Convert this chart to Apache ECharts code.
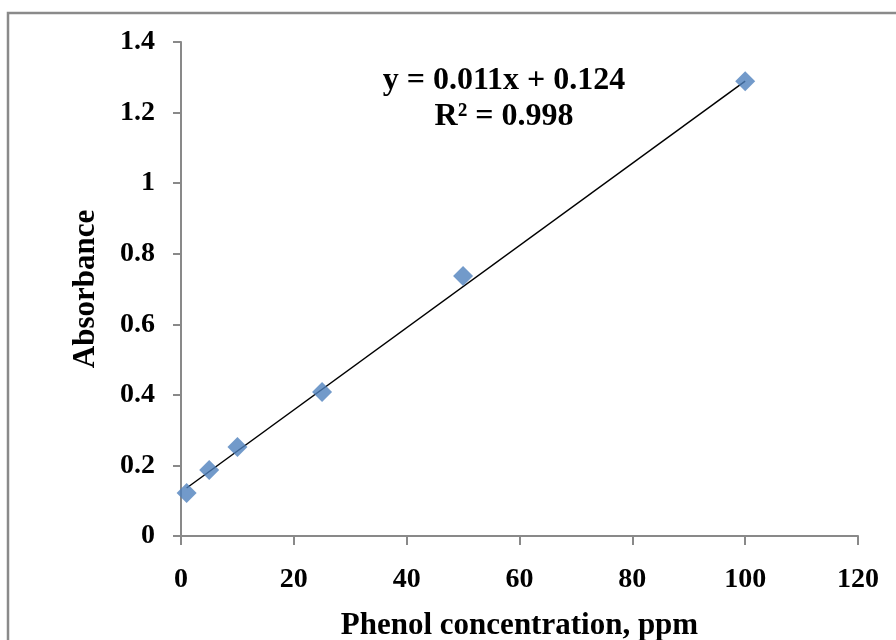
<!DOCTYPE html>
<html>
<head>
<meta charset="utf-8">
<script src="https://cdn.jsdelivr.net/npm/echarts@6/dist/echarts.min.js"></script>
<style>
  html, body { margin: 0; padding: 0; background: #fff; }
  #chart { width: 896px; height: 640px; }
</style>
</head>
<body>
<div id="chart"></div>
<script>
const concentrations = [1, 5, 10, 25, 50, 100];
const absorbance = [0.122, 0.187, 0.252, 0.408, 0.737, 1.289];
const trendX = [1, 100];
const trendY = [0.136, 1.289];
const equationText = 'y = 0.011x + 0.124';
const r2Text = 'R² = 0.998';

const font = '"Liberation Serif", "Times New Roman", serif';
const axisGrey = '#898989';

const pairs = (xs, ys) => xs.map((x, i) => [x, ys[i]]);

const initChart = () => {
  const chart = echarts.init(document.getElementById('chart'));
  chart.setOption({
    animation: false,
    grid: { left: 181, top: 42, right: 38, bottom: 104, outerBoundsMode: 'none', containLabel: false },
    xAxis: {
      type: 'value',
      min: 0,
      max: 120,
      interval: 20,
      name: 'Phenol concentration, ppm',
      nameLocation: 'middle',
      nameGap: 74,
      nameTextStyle: { fontFamily: font, fontWeight: 'bold', fontSize: 31, color: '#000' },
      axisLine: { show: true, lineStyle: { color: axisGrey, width: 2 } },
      axisTick: { show: true, inside: false, length: 9, lineStyle: { color: axisGrey, width: 2 } },
      axisLabel: { fontFamily: font, fontWeight: 'bold', fontSize: 28, color: '#000', margin: 30 },
      splitLine: { show: false }
    },
    yAxis: {
      type: 'value',
      min: 0,
      max: 1.4,
      interval: 0.2,
      name: 'Absorbance',
      nameLocation: 'middle',
      nameGap: 80,
      nameTextStyle: { fontFamily: font, fontWeight: 'bold', fontSize: 31, color: '#000' },
      axisLine: { show: true, lineStyle: { color: axisGrey, width: 2 } },
      axisTick: { show: true, inside: false, length: 8, lineStyle: { color: axisGrey, width: 2 } },
      axisLabel: { fontFamily: font, fontWeight: 'bold', fontSize: 28, color: '#000', margin: 26 },
      splitLine: { show: false }
    },
    graphic: [
      {
        type: 'rect',
        shape: { x: 8, y: 13, width: 960, height: 700 },
        style: { fill: 'none', stroke: '#8a8a8a', lineWidth: 2.5 },
        silent: true
      },
      {
        type: 'text',
        x: 504,
        y: 81,
        style: { text: equationText, font: 'bold 32px ' + font, fill: '#000', align: 'center', verticalAlign: 'middle' }
      },
      {
        type: 'text',
        x: 504,
        y: 117,
        style: { text: r2Text, font: 'bold 32px ' + font, fill: '#000', align: 'center', verticalAlign: 'middle' }
      }
    ],
    series: [
      {
        type: 'line',
        data: pairs(trendX, trendY),
        symbol: 'none',
        lineStyle: { color: '#000', width: 1.5 },
        z: 2
      },
      {
        type: 'scatter',
        data: pairs(concentrations, absorbance),
        symbol: 'diamond',
        symbolSize: [20, 20],
        itemStyle: { color: '#4F81BD' },
        z: 3
      }
    ]
  });
};

window.addEventListener('load', () => {
  initChart();
});
</script>
</body>
</html>
